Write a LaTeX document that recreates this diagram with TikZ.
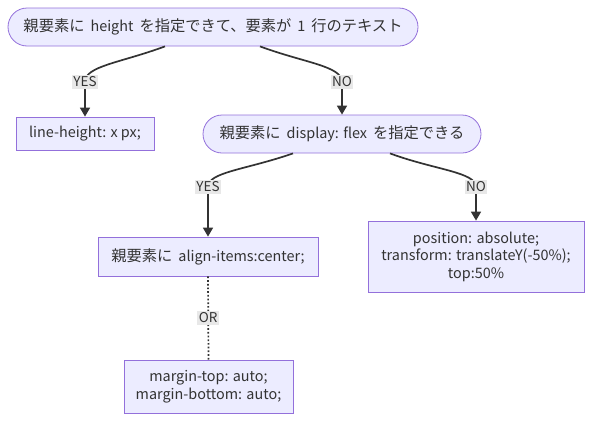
\documentclass[tikz,border=0pt]{standalone}
\usepackage{fontspec}
\setmainfont{Noto Sans CJK JP}
\newfontfamily\jpfont[Scale=1.06]{Noto Sans CJK JP}
\newcommand{\jp}[1]{{\jpfont #1}}
\newcommand{\wsp}{\hspace{6pt}}
\usetikzlibrary{arrows.meta, shapes.misc}
\definecolor{boxfill}{HTML}{ECECFF}
\definecolor{boxline}{HTML}{9370DB}
\definecolor{edgeline}{HTML}{333333}
\definecolor{tagfill}{HTML}{E8E8E8}
\begin{document}
\begin{tikzpicture}[x=1pt, y=-1pt, font=\fontsize{14.4}{17.5}\selectfont, text=edgeline,
	choice/.style={rounded rectangle, draw=boxline, fill=boxfill, line width=0.8pt, minimum height=38pt, inner sep=0pt},
	step box/.style={rectangle, draw=boxline, fill=boxfill, line width=0.8pt, inner sep=0pt, align=center},
	link/.style={draw=edgeline, line width=1.7pt, -{Triangle[length=9pt, width=10pt]}},
	tag/.style={fill=tagfill, inner xsep=1.5pt, inner ysep=1.5pt, font=\fontsize{13.5}{14}\selectfont}]
	\useasboundingbox (0,0) rectangle (600,426);
	\node[choice, minimum width=410pt]				(top)	at (213,27)	{\jp{親要素に}\wsp height\wsp\jp{を指定できて、要素が}\wsp 1\wsp\jp{行のテキスト}};
	\node[step box, minimum width=138pt, minimum height=33pt]	(lh)	at (85,133.5)	{line-height: x px;};
	\node[choice, minimum width=278pt]				(flex)	at (342,134)	{\jp{親要素に}\wsp display: flex\wsp\jp{を指定できる}};
	\node[step box, minimum width=220pt, minimum height=39pt]	(align)	at (208,256.5)	{\jp{親要素に}\wsp align-items:center;};
	\node[step box, minimum width=216pt, minimum height=71pt]	(abs)	at (476,256.5)	{position: absolute;\\transform: translateY(-50\%);\\top:50\%};
	\node[step box, minimum width=169pt, minimum height=53pt]	(margin)	at (208.5,386.5)	{margin-top: auto;\\margin-bottom: auto;};
	\coordinate (yesA) at (85,82);
	\coordinate (noA) at (342,82);
	\coordinate (yesB) at (208,187);
	\coordinate (noB) at (476,187);
	\draw[link]	([xshift=-48pt]top.south) .. controls (120,63) and (85,66) .. (yesA) -- (lh.north);
	\draw[link]	([xshift=47pt]top.south) .. controls (305,63) and (342,66) .. (noA) -- (flex.north);
	\draw[link]	([xshift=-49pt]flex.south) .. controls (245,170) and (208,172) .. (yesB) -- (align.north);
	\draw[link]	([xshift=48pt]flex.south) .. controls (435,170) and (476,172) .. (noB) -- (abs.north);
	\draw[draw=edgeline, line width=1.7pt, dotted]	(align.south) -- (margin.north) node[midway, tag] (orT) {OR};
	\node[tag] (yesT1) at (yesA) {YES};
	\node[tag] (noT1) at (noA) {NO};
	\node[tag] (yesT2) at (yesB) {YES};
	\node[tag] (noT2) at (noB) {NO};
\end{tikzpicture}
\end{document}
